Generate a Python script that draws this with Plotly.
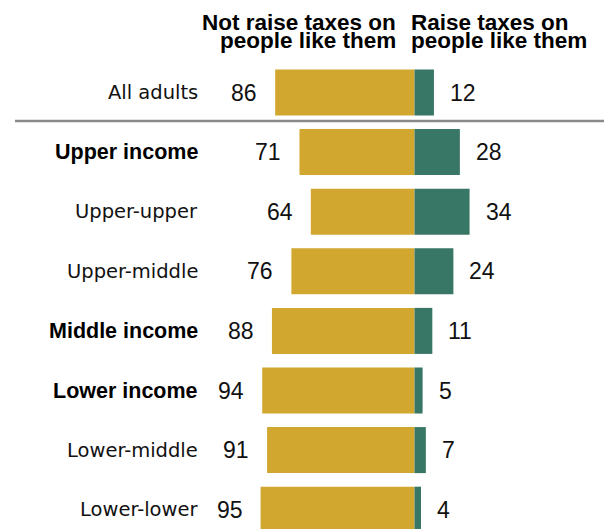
import plotly.graph_objects as go

# Survey shares: should the government raise taxes on people like them?
categories = ["All adults", "Upper income", "Upper-upper", "Upper-middle",
              "Middle income", "Lower income", "Lower-middle", "Lower-lower"]
not_raise = [86, 71, 64, 76, 88, 94, 91, 95]
raise_taxes = [12, 28, 34, 24, 11, 5, 7, 4]
bold_rows = ["Upper income", "Middle income", "Lower income"]
header_left = ["Not raise taxes on", "people like them"]
header_right = ["Raise taxes on", "people like them"]

GOLD = "#D2A72F"
GREEN = "#387665"
W, H = 604, 529
CENTER_PX = 414.5      # horizontal position of the zero line
PX_PER_UNIT = 1.62
ROW0_PX, ROW_STEP = 92.5, 59.6

fig = go.Figure()
fig.add_trace(go.Bar(
    y=categories, x=[-v for v in not_raise], orientation="h",
    marker=dict(color=GOLD, line=dict(width=0)), width=0.772,
    hoverinfo="skip", showlegend=False))
fig.add_trace(go.Bar(
    y=categories, x=raise_taxes, orientation="h",
    marker=dict(color=GREEN, line=dict(width=0)), width=0.772,
    hoverinfo="skip", showlegend=False))

annotations = []
num_font = dict(family="Liberation Sans, Arial, sans-serif", size=23, color="#111")
for cat, a, b in zip(categories, not_raise, raise_taxes):
    annotations.append(dict(x=-a, y=cat, xref="x", yref="y", text=str(a),
                            showarrow=False, xanchor="right", yanchor="middle",
                            xshift=-16, font=num_font))
    annotations.append(dict(x=b, y=cat, xref="x", yref="y", text=str(b),
                            showarrow=False, xanchor="left", yanchor="middle",
                            xshift=14, font=num_font))
    if cat in bold_rows:
        lab_font = dict(family="Liberation Sans, Arial, sans-serif", size=21.5,
                        color="#000")
        txt = f"<b>{cat}</b>"
    else:
        lab_font = dict(family="DejaVu Sans, sans-serif", size=19.5, color="#111")
        txt = cat
    annotations.append(dict(x=200 / W, y=cat, xref="paper", yref="y", text=txt,
                            showarrow=False, xanchor="right", yanchor="middle",
                            font=lab_font))

# Column headers, two tightly spaced lines each
head_font = dict(family="Liberation Sans, Arial, sans-serif", size=22.5, color="#000")
head_mid = [22.3, 40.8]
for i, line in enumerate(header_left):
    annotations.append(dict(x=398 / W, y=1 - head_mid[i] / H, xref="paper",
                            yref="paper", text=f"<b>{line}</b>", showarrow=False,
                            xanchor="right", yanchor="middle", font=head_font))
for i, line in enumerate(header_right):
    annotations.append(dict(x=409 / W, y=1 - head_mid[i] / H, xref="paper",
                            yref="paper", text=f"<b>{line}</b>", showarrow=False,
                            xanchor="left", yanchor="middle", font=head_font))

fig.update_layout(
    width=W, height=H,
    margin=dict(l=0, r=0, t=0, b=0),
    paper_bgcolor="white", plot_bgcolor="white",
    barmode="relative",
    xaxis=dict(range=[-CENTER_PX / PX_PER_UNIT, (W - CENTER_PX) / PX_PER_UNIT],
               visible=False, fixedrange=True),
    yaxis=dict(type="category", categoryorder="array", categoryarray=categories,
               range=[(H - ROW0_PX) / ROW_STEP, -ROW0_PX / ROW_STEP],
               visible=False, fixedrange=True),
    annotations=annotations,
    shapes=[dict(type="line", xref="paper", yref="paper",
                 x0=15 / W, x1=1, y0=1 - 121 / H, y1=1 - 121 / H,
                 line=dict(color="#8a8a8a", width=2.5))],
)

fig.write_html("out.html", config={"displayModeBar": False})
